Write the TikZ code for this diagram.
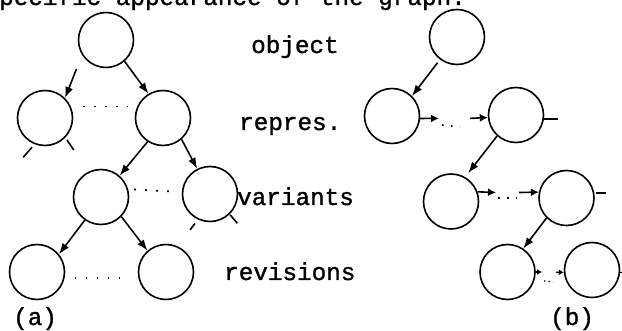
\documentclass[tikz,border=0pt]{standalone}
\usepackage{fontspec}
\setmonofont[FakeBold=1.2]{Liberation Mono}
\usetikzlibrary{arrows.meta,calc}
\begin{document}
\begin{tikzpicture}[x=1pt,y=1pt,
  circ/.style={circle,draw,line width=1.6pt,minimum size=55pt,inner sep=0pt},
  lbl/.style={anchor=base west,inner sep=0pt,font=\fontsize{24.3}{28}\selectfont\ttfamily},
  arr/.style={line width=1.6pt,-{Latex[length=11pt,width=8pt]}},
  sarr/.style={line width=1.6pt,-{Latex[length=8pt,width=8pt]}},
  tarr/.style={line width=1.3pt,-{Latex[length=5pt,width=6pt]}},
  dotsa/.style={line width=1.8pt,dash pattern=on 1.8pt off 9.2pt},
  dotsb/.style={line width=1.6pt,dash pattern=on 1.6pt off 7.4pt},
  stub/.style={line width=1.6pt}]
\useasboundingbox (0,0) rectangle (622,-331);
\clip (0,0) rectangle (622,-331);

% text
\node[lbl] (top) at (-1,-5) {pecific appearance of the graph.};
\node[lbl] (lobj) at (251,-53) {object};
\node[lbl] (lrep) at (239,-130) {repres.};
\node[lbl] (lvar) at (237,-205) {variants};
\node[lbl] (lrev) at (224,-280) {revisions};
\node[lbl] (la) at (13,-325) {(a)};
\node[lbl] (lb) at (550,-325) {(b)};

% (a) nodes
\node[circ] (A0) at (106,-40) {};
\node[circ] (A1) at (45,-118) {};
\node[circ] (A2) at (163,-118) {};
\node[circ] (A3) at (101,-197) {};
\node[circ] (A4) at (210,-194) {};
\node[circ] (A5) at (37,-272) {};
\node[circ] (A6) at (166,-272) {};

% (a) arrows
\draw[arr, shorten <=15pt] (A0.212) -- (A1.45);
\draw[arr] (A0.311) -- (A2.121);
\draw[arr] (A2.237) -- (A3.49);
\draw[arr] (A2.311) -- (A4.117);
\draw[arr] (A3.235) -- (A5.39);
\draw[arr] (A3.316) -- (A6.131);

% (a) dotted links
\draw[dotsa, shorten <=12pt, shorten >=10pt] (A1.24) -- (A2.156);
\draw[dotsa, shorten <=6pt, shorten >=13pt] (A3.16) -- (A4.176);
\draw[dotsa, shorten <=10pt, shorten >=11pt] (A5.-13) -- (A6.193);

% (a) stubs
\draw[stub] ($(A1)+(246:32)$) -- ($(A1)+(241:45)$);
\draw[stub] ($(A1)+(315:31)$) -- ($(A1)+(312:43)$);
\draw[stub] ($(A4)+(243:33)$) -- ($(A4)+(241:41)$);
\draw[stub] ($(A4)+(314:29)$) -- ($(A4)+(313:40)$);

% (b) nodes
\node[circ] (B0) at (457,-37) {};
\node[circ] (B1) at (392,-116) {};
\node[circ] (B2) at (516,-115) {};
\node[circ] (B3) at (451,-201.5) {};
\node[circ] (B4) at (566.5,-198) {};
\node[circ] (B5) at (507.5,-272) {};
\node[circ] (B6) at (592,-270) {};

% (b) vertical arrows
\draw[arr, shorten <=4pt] (B0.233) -- (B1.45);
\draw[arr, shorten >=5pt] (B2.228) -- (B3.60);
\draw[arr] (B4.225) -- (B5.56);

% (b) repres. row
\coordinate (r1) at (439,-118.4);
\coordinate (r2) at (470,-118.4);
\coordinate (rd1) at (442,-125);
\coordinate (rd2) at (460,-127);
\draw[sarr] (B1.-5) -- (r1);
\draw[dotsb] (rd1) -- (rd2);
\draw[sarr] (r2) -- (B2.185);
\draw[stub] (B2.-8) -- ($(B2.-8)+(14,0)$);

% (b) variants row
\coordinate (v1) at (496,-192.5);
\coordinate (v2) at (519,-192.5);
\coordinate (vd1) at (498,-198);
\coordinate (vd2) at (517,-198);
\draw[sarr] (B3.20) -- (v1);
\draw[dotsb] (vd1) -- (vd2);
\draw[sarr] (v2) -- (B4.168);
\draw[stub] ($(B4.10)+(2,0)$) -- ($(B4.10)+(12,0)$);

% (b) revisions row
\coordinate (w1) at (542,-272);
\coordinate (w2) at (556,-272.2);
\coordinate (wd1) at (544,-281);
\coordinate (wd2) at (553,-282);
\draw[tarr] (B5.east) -- (w1);
\draw[line width=1.3pt, dash pattern=on 1.3pt off 3.2pt] (wd1) -- (wd2);
\draw[tarr] (w2) -- (B6.185);
\draw[stub] (B6.-5) -- ($(B6.-5)+(4,0)$);
\end{tikzpicture}
\end{document}
